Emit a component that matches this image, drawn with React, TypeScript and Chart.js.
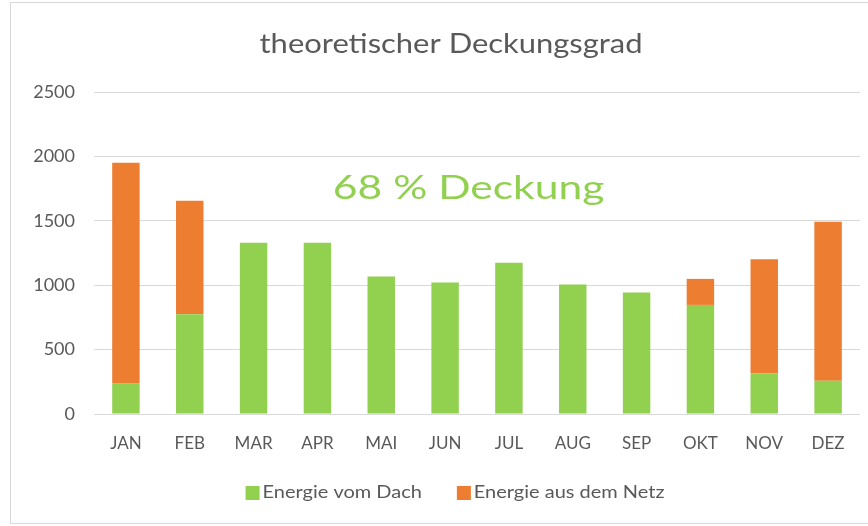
import React, { useEffect, useRef } from "react";
import { Chart, registerables } from "chart.js";

Chart.register(...registerables);

const months = ["JAN", "FEB", "MAR", "APR", "MAI", "JUN", "JUL", "AUG", "SEP", "OKT", "NOV", "DEZ"];
const energieDach = [240, 775, 1330, 1330, 1067, 1020, 1175, 1005, 943, 847, 315, 258];
const energieNetz = [1710, 880, 0, 0, 0, 0, 0, 0, 0, 202, 887, 1234];
const yTicks = [0, 500, 1000, 1500, 2000, 2500];
const titleText = "theoretischer Deckungsgrad";
const annotationText = "68 % Deckung";
const seriesNames = ["Energie vom Dach", "Energie aus dem Netz"];

const GREEN = "#92D050";
const ORANGE = "#ED7D31";
const TEXT = "#595959";
const FONT = "Lato, 'Open Sans', sans-serif";

function stretchedText(ctx: any, text: string, x: number, y: number, sx: number, align: "center" | "left") {
  ctx.save();
  ctx.translate(x, y);
  ctx.scale(sx, 1);
  ctx.textAlign = align;
  ctx.fillText(text, 0, 0);
  ctx.restore();
}

const decorPlugin = {
  id: "decor",
  afterDraw(chart: any) {
    const { ctx, chartArea, scales, width } = chart;
    ctx.save();
    ctx.textBaseline = "alphabetic";

    // title
    ctx.font = `normal 26px ${FONT}`;
    ctx.fillStyle = TEXT;
    stretchedText(ctx, titleText, width / 2, 50, 1.19, "center");

    // annotation
    const y = scales.y.getPixelForValue(1750);
    const x = chartArea.left + (chartArea.right - chartArea.left) * 0.489;
    ctx.font = `normal 33px ${FONT}`;
    ctx.fillStyle = GREEN;
    ctx.textBaseline = "middle";
    stretchedText(ctx, annotationText, x, y, 1.29, "center");

    // legend
    ctx.font = `normal 18px ${FONT}`;
    ctx.textBaseline = "alphabetic";
    const sx = 1.11;
    const box = 14;
    const gap = 3;
    const itemGap = 35;
    const colors = [GREEN, ORANGE];
    const textWidths = seriesNames.map((n) => ctx.measureText(n).width * sx);
    const total = textWidths.reduce((a, b) => a + b, 0) + seriesNames.length * (box + gap) + itemGap * (seriesNames.length - 1);
    let lx = width / 2 + 4 - total / 2;
    const baseY = 495;
    seriesNames.forEach((n, i) => {
      ctx.fillStyle = colors[i];
      ctx.fillRect(lx, baseY - 12, box, box);
      lx += box + gap;
      ctx.fillStyle = TEXT;
      stretchedText(ctx, n, lx, baseY, sx, "left");
      lx += textWidths[i] + itemGap;
    });
    ctx.restore();
  },
};

export default function App() {
  const ref = useRef<HTMLCanvasElement>(null);
  useEffect(() => {
    if (!ref.current) return;
    const chart = new Chart(ref.current, {
      type: "bar",
      data: {
        labels: months,
        datasets: [
          { label: seriesNames[0], data: energieDach, backgroundColor: GREEN, barPercentage: 0.43, categoryPercentage: 1 },
          { label: seriesNames[1], data: energieNetz, backgroundColor: ORANGE, barPercentage: 0.43, categoryPercentage: 1 },
        ],
      },
      options: {
        animation: false,
        responsive: false,
        maintainAspectRatio: false,
        layout: { padding: { left: 0, right: 31, top: 89, bottom: 69 } },
        scales: {
          x: {
            stacked: true,
            grid: { display: false, drawTicks: false },
            border: { display: false },
            ticks: { color: TEXT, font: { family: FONT, size: 17 }, padding: 19 },
            afterFit: (s: any) => {
              s.height = 40;
            },
          },
          y: {
            stacked: true,
            min: 0,
            max: 2500,
            afterBuildTicks: (s: any) => {
              s.ticks = yTicks.map((v) => ({ value: v }));
            },
            afterFit: (s: any) => {
              s.width = 83;
            },
            grid: { color: "#D9D9D9", lineWidth: 1, drawTicks: false },
            border: { display: false },
            ticks: {
              color: TEXT,
              font: { family: FONT, size: 18 },
              padding: 19,
              callback: (v: any) => String(v),
            },
          },
        },
        plugins: {
          title: { display: false },
          legend: { display: false },
          tooltip: { enabled: false },
        },
      },
      plugins: [decorPlugin],
    });
    return () => chart.destroy();
  }, []);

  return (
    <div style={{ position: "fixed", left: 0, top: 0, width: 868, height: 526, overflow: "hidden", background: "#fff" }}>
      <div style={{ position: "absolute", left: 10, top: 2, width: 882, height: 522, border: "1px solid #D9D9D9", boxSizing: "border-box" }}>
        <canvas ref={ref} width={880} height={520} style={{ display: "block" }} />
      </div>
    </div>
  );
}
